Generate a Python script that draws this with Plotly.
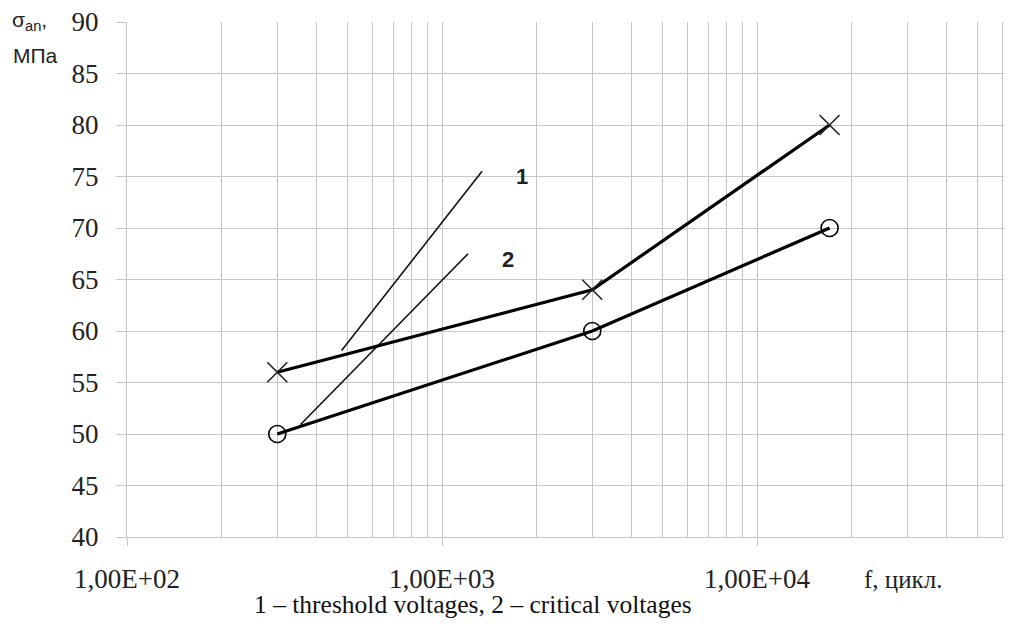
import math
import plotly.graph_objects as go

# Data
freq = [300, 3000, 17000]
threshold_vals = [56, 64, 80]     # crosses
critical_vals = [50, 60, 70]      # circles

line1_x = [480, 1340]
line1_y = [58.1, 75.5]
line2_x = [355, 1210]
line2_y = [50.9, 67.5]

label1 = (1790, 75.0)
label2 = (1620, 66.9)

x_tickvals = [100, 1000, 10000]
x_ticktext = ["1,00E+02", "1,00E+03", "1,00E+04"]
y_tickvals = [40, 45, 50, 55, 60, 65, 70, 75, 80, 85, 90]

OFF = 8  # default page body margin
W, H = 1012, 626
L, R, T, B = 127 - OFF, 0, 22 - OFF, 626 - (537 - OFF)
DEC = 315.0
xmax_log = 2 + (W - L - R) / DEC

def px(xp):
    return (xp - OFF - L) / (W - L - R)

def py(yp):
    return 1 - (yp - OFF - T) / (H - T - B)

GRID = "#c6c6c6"
SERIF = "Liberation Serif, Times New Roman, serif"
SANS = "Liberation Sans, Arial, sans-serif"

fig = go.Figure()

fig.add_trace(go.Scatter(x=line1_x, y=line1_y, mode="lines",
                         line=dict(color="#111", width=1.6), showlegend=False))
fig.add_trace(go.Scatter(x=line2_x, y=line2_y, mode="lines",
                         line=dict(color="#111", width=1.6), showlegend=False))

fig.add_trace(go.Scatter(x=freq, y=threshold_vals, mode="lines+markers",
                         line=dict(color="#000", width=3.2),
                         marker=dict(symbol="x-thin", size=20,
                                     line=dict(color="#222", width=1.6)),
                         showlegend=False))
fig.add_trace(go.Scatter(x=freq, y=critical_vals, mode="lines+markers",
                         line=dict(color="#000", width=3.2),
                         marker=dict(symbol="circle-open", size=17,
                                     line=dict(color="#222", width=1.6)),
                         showlegend=False))

fig.add_annotation(x=math.log10(label1[0]), y=label1[1], text="<b>1</b>",
                   showarrow=False, font=dict(family=SANS, size=22, color="#222"))
fig.add_annotation(x=math.log10(label2[0]), y=label2[1], text="<b>2</b>",
                   showarrow=False, font=dict(family=SANS, size=22, color="#222"))

# axis titles / caption
fig.add_annotation(xref="paper", yref="paper", x=px(10), y=py(21),
                   xanchor="left", yanchor="middle", showarrow=False,
                   text="σ<sub>an</sub>,",
                   font=dict(family=SANS, size=21, color="#222"))
fig.add_annotation(xref="paper", yref="paper", x=px(11), y=py(55),
                   xanchor="left", yanchor="middle", showarrow=False,
                   text="МПа", font=dict(family=SANS, size=21, color="#222"))
fig.add_annotation(xref="paper", yref="paper", x=px(862), y=py(579),
                   xanchor="left", yanchor="middle", showarrow=False,
                   text="f, цикл.", font=dict(family=SERIF, size=25, color="#222"))
fig.add_annotation(xref="paper", yref="paper", x=px(473), y=py(604),
                   xanchor="center", yanchor="middle", showarrow=False,
                   text="1 – threshold voltages, 2 – critical voltages",
                   font=dict(family=SERIF, size=25.5, color="#111"))

fig.update_xaxes(type="log", range=[2, xmax_log],
                 tickvals=x_tickvals, ticktext=x_ticktext,
                 ticks="outside", ticklen=8, tickcolor=GRID, tickwidth=1,
                 showgrid=True, gridcolor=GRID, gridwidth=1,
                 minor=dict(dtick="D1", showgrid=True, gridcolor=GRID,
                            gridwidth=1, ticks=""),
                 showline=True, linecolor=GRID, linewidth=1,
                 zeroline=False, ticklabelstandoff=10,
                 ticklabeloverflow="allow",
                 tickfont=dict(family=SERIF, size=27, color="#222"))
fig.update_yaxes(range=[40, 90], tickvals=y_tickvals,
                 ticks="outside", ticklen=10, tickcolor=GRID, tickwidth=1,
                 showgrid=True, gridcolor=GRID, gridwidth=1,
                 showline=True, linecolor=GRID, linewidth=1,
                 zeroline=False, ticklabelstandoff=12,
                 ticklabeloverflow="allow",
                 tickfont=dict(family=SERIF, size=27, color="#222"))

fig.update_layout(width=W, height=H,
                  margin=dict(l=L, r=R, t=T, b=B, pad=0),
                  paper_bgcolor="white", plot_bgcolor="white",
                  showlegend=False)

fig.write_html("out.html")
